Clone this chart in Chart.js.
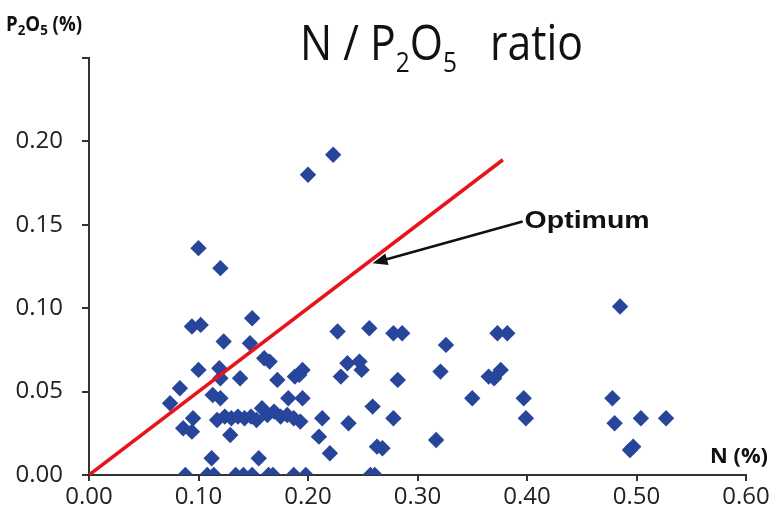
<!DOCTYPE html>
<html>
<head>
<meta charset="utf-8">
<script src="https://cdn.jsdelivr.net/npm/chart.js@4.4.0/dist/chart.umd.min.js"></script>
<style>
    html, body { margin: 0; padding: 0; background: #fff; }
    #wrap { width: 774px; height: 512px; position: relative; }
</style>
</head>
<body>
<div id="wrap"><canvas id="grafico" width="774" height="512"></canvas></div>
<script>
"use strict";

/* ===== DADOS ===== */
// N (%) e P2O5 (%) de cada amostra, pareados pelo índice
const nPct = [
    0.223, 0.200, 0.100, 0.120,
    0.094, 0.102, 0.123, 0.149, 0.147, 0.160, 0.165, 0.100, 0.119, 0.120, 0.138,
    0.172, 0.188, 0.195, 0.192, 0.083, 0.074, 0.113, 0.120, 0.182, 0.195,
    0.117, 0.124, 0.130, 0.136, 0.142, 0.148, 0.153, 0.158, 0.163, 0.169, 0.175,
    0.181, 0.187, 0.193,
    0.095, 0.086, 0.094, 0.129, 0.112, 0.155,
    0.227, 0.256, 0.278, 0.286, 0.326, 0.373, 0.382, 0.236, 0.247, 0.249, 0.230,
    0.282, 0.321, 0.365, 0.370, 0.376, 0.350, 0.397, 0.399, 0.259, 0.237, 0.213,
    0.278, 0.317, 0.263, 0.268, 0.210, 0.220,
    0.485, 0.478, 0.480, 0.504, 0.527, 0.494, 0.497,
    0.088, 0.108, 0.114, 0.134, 0.141, 0.149, 0.164, 0.168, 0.187, 0.198, 0.257, 0.261
];
const p2o5Pct = [
    0.192, 0.180, 0.136, 0.124,
    0.089, 0.090, 0.080, 0.094, 0.079, 0.070, 0.068, 0.063, 0.064, 0.058, 0.058,
    0.057, 0.059, 0.063, 0.060, 0.052, 0.043, 0.048, 0.046, 0.046, 0.046,
    0.033, 0.035, 0.034, 0.035, 0.034, 0.035, 0.033, 0.040, 0.036, 0.038, 0.035,
    0.036, 0.034, 0.032,
    0.034, 0.028, 0.026, 0.024, 0.010, 0.010,
    0.086, 0.088, 0.085, 0.085, 0.078, 0.085, 0.085, 0.067, 0.068, 0.063, 0.059,
    0.057, 0.062, 0.059, 0.058, 0.063, 0.046, 0.046, 0.034, 0.041, 0.031, 0.034,
    0.034, 0.021, 0.017, 0.016, 0.023, 0.013,
    0.101, 0.046, 0.031, 0.034, 0.034, 0.015, 0.017,
    0, 0, 0, 0, 0, 0, 0, 0, 0, 0, 0, 0
];

// linha do ótimo (N / P2O5 = 2)
const otimoN = [0, 0.378];
const otimoP = [0, 0.189];

// seta "Optimum" (início e ponta, em valores dos eixos)
const setaN = [0.396, 0.259];
const setaP = [0.152, 0.127];

const ticksN = [0, 0.1, 0.2, 0.3, 0.4, 0.5, 0.6];
const ticksP = [0, 0.05, 0.10, 0.15, 0.20, 0.25];

const AZUL = "#27469b";
const VERMELHO = "#e8141c";
const FONTE = "'Open Sans', 'DejaVu Sans', sans-serif";

/* ===== TEXTOS ===== */
// escreve trechos seguidos (com subscritos) comprimidos numa largura alvo
function escreverTrechos(ctx, trechos, x, base, largura) {
    let total = 0;
    trechos.forEach(t => { ctx.font = t.fonte; total += ctx.measureText(t.txt).width; });
    const k = largura ? largura / total : 1;
    ctx.save();
    ctx.translate(x, base);
    ctx.scale(k, 1);
    ctx.fillStyle = "#111";
    ctx.textBaseline = "alphabetic";
    ctx.textAlign = "left";
    let cx = 0;
    trechos.forEach(t => {
        ctx.font = t.fonte;
        ctx.fillText(t.txt, cx, t.dy || 0);
        cx += ctx.measureText(t.txt).width;
    });
    ctx.restore();
}

const textosPlugin = {
    id: "textos",
    afterDraw(chart) {
        const ctx = chart.ctx;
        const xs = chart.scales.x, ys = chart.scales.y;

        // título
        const g = "400 49px " + FONTE, s = "400 28px " + FONTE;
        escreverTrechos(ctx, [
            { txt: "N / P", fonte: g },
            { txt: "2", fonte: s, dy: 12 },
            { txt: "O", fonte: g },
            { txt: "5", fonte: s, dy: 12 },
            { txt: "   ratio", fonte: g }
        ], 300, 60, 283);

        // rótulo eixo y
        const b = "700 21px " + FONTE, bs = "700 15px " + FONTE;
        escreverTrechos(ctx, [
            { txt: "P", fonte: b },
            { txt: "2", fonte: bs, dy: 4 },
            { txt: "O", fonte: b },
            { txt: "5", fonte: bs, dy: 4 },
            { txt: " (%)", fonte: b }
        ], 6, 31, 76);

        // rótulo eixo x
        escreverTrechos(ctx, [{ txt: "N (%)", fonte: "700 21px " + FONTE }], 710, 463, 58);

        // seta e texto "Optimum"
        const x0 = xs.getPixelForValue(setaN[0]), y0 = ys.getPixelForValue(setaP[0]);
        const x1 = xs.getPixelForValue(setaN[1]), y1 = ys.getPixelForValue(setaP[1]);
        const ang = Math.atan2(y1 - y0, x1 - x0);
        const cab = 16;
        ctx.save();
        ctx.strokeStyle = "#111";
        ctx.fillStyle = "#111";
        ctx.lineWidth = 2.5;
        ctx.beginPath();
        ctx.moveTo(x0, y0);
        ctx.lineTo(x1 - Math.cos(ang) * cab * 0.8, y1 - Math.sin(ang) * cab * 0.8);
        ctx.stroke();
        ctx.beginPath();
        ctx.moveTo(x1, y1);
        ctx.lineTo(x1 - cab * Math.cos(ang - 0.38), y1 - cab * Math.sin(ang - 0.38));
        ctx.lineTo(x1 - cab * Math.cos(ang + 0.38), y1 - cab * Math.sin(ang + 0.38));
        ctx.closePath();
        ctx.fill();
        ctx.restore();

        escreverTrechos(ctx, [{ txt: "Optimum", fonte: "700 23px 'Liberation Sans', Arial, sans-serif" }], x0 + 2, 228, 125);
    }
};

/* ===== GRÁFICO ===== */
const amostras = nPct.map((n, i) => ({ x: n, y: p2o5Pct[i] }));
const otimo = otimoN.map((n, i) => ({ x: n, y: otimoP[i] }));

new Chart(document.getElementById("grafico"), {
    type: "scatter",
    data: {
        datasets: [
            {
                label: "Optimum",
                data: otimo,
                showLine: true,
                borderColor: VERMELHO,
                borderWidth: 3.5,
                pointRadius: 0,
                order: 0
            },
            {
                label: "Amostras",
                data: amostras,
                pointStyle: "rectRot",
                pointRadius: 8.2,
                pointHoverRadius: 8.2,
                backgroundColor: AZUL,
                borderWidth: 0,
                order: 1
            }
        ]
    },
    options: {
        responsive: false,
        animation: false,
        layout: { padding: { top: 58, right: 28, left: 0, bottom: 0 } },
        plugins: {
            legend: { display: false },
            tooltip: { enabled: false }
        },
        scales: {
            x: {
                type: "linear",
                min: ticksN[0],
                max: ticksN[ticksN.length - 1],
                afterBuildTicks: sc => { sc.ticks = ticksN.map(v => ({ value: v })); },
                afterFit: sc => { sc.height = 37; },
                border: { display: true, color: "#333", width: 2 },
                grid: { drawOnChartArea: false, drawTicks: true, tickLength: 6, color: "#333", lineWidth: 2 },
                ticks: {
                    padding: 2,
                    maxRotation: 0,
                    autoSkip: false,
                    color: "#222",
                    font: { family: FONTE, size: 24 },
                    callback: v => Number(v).toFixed(2)
                }
            },
            y: {
                type: "linear",
                min: ticksP[0],
                max: ticksP[ticksP.length - 1],
                afterBuildTicks: sc => { sc.ticks = ticksP.map(v => ({ value: v })); },
                afterFit: sc => { sc.width = 89; },
                border: { display: true, color: "#333", width: 2 },
                grid: { drawOnChartArea: false, drawTicks: true, tickLength: 7, color: "#333", lineWidth: 2 },
                ticks: {
                    padding: 19,
                    autoSkip: false,
                    color: "#222",
                    font: { family: FONTE, size: 24 },
                    callback: v => v > 0.201 ? "" : Number(v).toFixed(2)
                }
            }
        }
    },
    plugins: [textosPlugin]
});
</script>
</body>
</html>
